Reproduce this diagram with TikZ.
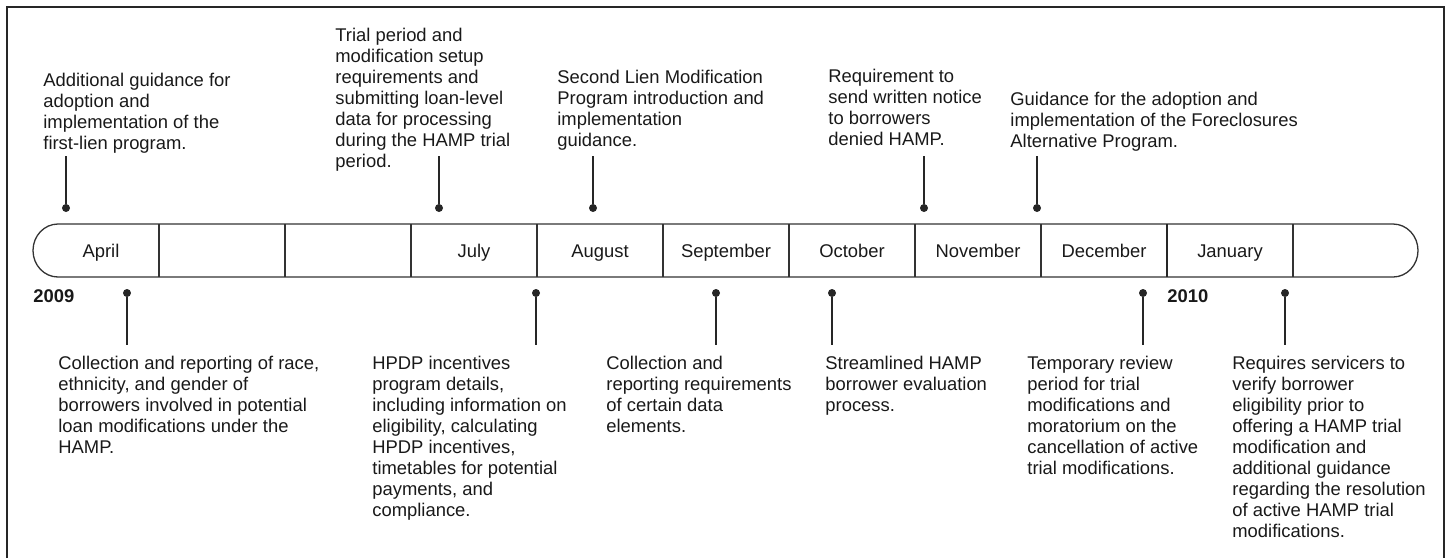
\documentclass[tikz,border=0pt]{standalone}
\usepackage{fontspec}
\setmainfont{Liberation Sans}
\begin{document}
\begin{tikzpicture}[x=0.5pt,y=-0.5pt,
    every node/.style={inner sep=0pt,text=black!90,font=\fontsize{9.2}{10.5}\selectfont},
    note/.style={anchor=north west,align=left},
    month/.style={anchor=base},
    year/.style={anchor=base west,font=\fontsize{9.2}{10.5}\selectfont\bfseries},
    dot/.style={circle,fill=black!85,minimum size=4pt},
    bar/.style={line width=0.65pt,draw=black!80}]
  \useasboundingbox (0,0) rectangle (1449,558);
  \draw[line width=0.8pt,black!85] (7,558) -- (7,7) -- (1444,7) -- (1444,558);
  \draw[bar] (58,224) -- (1393,224)
    arc[start angle=-90,end angle=90,x radius=25,y radius=26.5] -- (58,277)
    arc[start angle=90,end angle=270,x radius=25,y radius=26.5] -- cycle;
  \foreach \x in {159,285,411,537,663,789,915,1041,1293}
    \draw[bar] (\x,224) -- (\x,277);
  \draw[line width=1.1pt,black!85] (1167,224) -- (1167,277);
  \draw
    (101,257) node[month] (apr) {April}
    (474,257) node[month] (jul) {July}
    (600,257) node[month] (aug) {August}
    (726,257) node[month] (sep) {September}
    (852,257) node[month] (oct) {October}
    (978,257) node[month] (nov) {November}
    (1104,257) node[month] (dec) {December}
    (1230,257) node[month] (jan) {January}
    (33,302) node[year] (y09) {2009}
    (1167,302) node[year] (y10) {2010};
  \draw
    (43,73) node[note] (t1) {Additional guidance for\\adoption and\\implementation of the\\first-lien program.}
    (335,28) node[note] (t2) {Trial period and\\modification setup\\requirements and\\submitting loan-level\\data for processing\\during the HAMP trial\\period.}
    (557,70) node[note] (t3) {Second Lien Modification\\Program introduction and\\implementation\\guidance.}
    (828,69) node[note] (t4) {Requirement to\\send written notice\\to borrowers\\denied HAMP.}
    (1010,92) node[note] (t5) {Guidance for the adoption and\\implementation of the Foreclosures\\Alternative Program.}
    (58,356) node[note] (b1) {Collection and reporting of race,\\ethnicity, and gender of\\borrowers involved in potential\\loan modifications under the\\HAMP.}
    (372,356) node[note] (b2) {HPDP incentives\\program details,\\including information on\\eligibility, calculating\\HPDP incentives,\\timetables for potential\\payments, and\\compliance.}
    (606,356) node[note] (b3) {Collection and\\reporting requirements\\of certain data\\elements.}
    (825,356) node[note] (b4) {Streamlined HAMP\\borrower evaluation\\process.}
    (1027,356) node[note] (b5) {Temporary review\\period for trial\\modifications and\\moratorium on the\\cancellation of active\\trial modifications.}
    (1232,356) node[note] (b6) {Requires servicers to\\verify borrower\\eligibility prior to\\offering a HAMP trial\\modification and\\additional guidance\\regarding the resolution\\of active HAMP trial\\modifications.};
  \draw
    (66,208) node[dot] (d1) {}
    (439,208) node[dot] (d2) {}
    (593,208) node[dot] (d3) {}
    (924,208) node[dot] (d4) {}
    (1037,208) node[dot] (d5) {}
    (127,293) node[dot] (e1) {}
    (536,293) node[dot] (e2) {}
    (716,293) node[dot] (e3) {}
    (832,293) node[dot] (e4) {}
    (1143,293) node[dot] (e5) {}
    (1285,293) node[dot] (e6) {};
  \coordinate (up) at (0,156);
  \coordinate (down) at (0,345);
  \begin{scope}[line width=0.65pt,black!85]
    \draw (d1) -- (d1 |- up);
    \draw (d2) -- (d2 |- up);
    \draw (d3) -- (d3 |- up);
    \draw (d4) -- (d4 |- up);
    \draw (d5) -- (d5 |- up);
    \draw (e1) -- (e1 |- down);
    \draw (e2) -- (e2 |- down);
    \draw (e3) -- (e3 |- down);
    \draw (e4) -- (e4 |- down);
    \draw (e5) -- (e5 |- down);
    \draw (e6) -- (e6 |- down);
  \end{scope}
\end{tikzpicture}
\end{document}
